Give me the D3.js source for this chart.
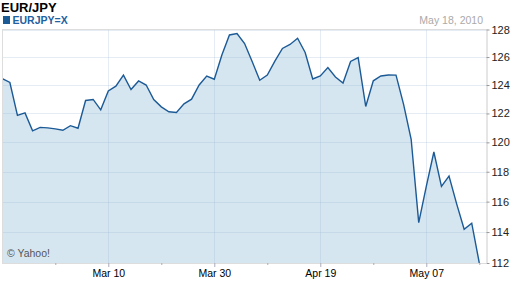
<!DOCTYPE html>
<html>
<head>
<meta charset="utf-8">
<script src="https://cdn.jsdelivr.net/npm/d3@7"></script>
<style>
  body { margin: 0; background: #fff; }
  svg { display: block; font-family: "Liberation Sans", Arial, sans-serif; }
</style>
</head>
<body>
<div id="chart"></div>
<script>
// EUR/JPY daily close, one value per trading day (Feb 18 .. May 18, 2010)
var closes = [
  124.46, 124.18, 121.86, 122.04, 120.79, 121.03, 121.00, 120.93, 120.83, 121.15,
  120.97, 122.91, 122.98, 122.25, 123.58, 123.92, 124.70, 123.68, 124.29, 124.00,
  122.98, 122.46, 122.12, 122.07, 122.67, 123.00, 124.00, 124.64, 124.41, 126.15,
  127.60, 127.71, 126.98, 125.68, 124.34, 124.71, 125.71, 126.62, 126.91, 127.36,
  126.33, 124.43, 124.64, 125.25, 124.57, 124.14, 125.68, 125.96, 122.49, 124.30,
  124.64, 124.71, 124.70, 122.63, 120.21, 114.62, 117.02, 119.34, 117.02, 117.71,
  115.87, 114.18, 114.58, 112.00
];

// x axis: trading-day index
var majorTickDays = [14, 28, 42, 56];
var majorTickLabels = ["Mar 10", "Mar 30", "Apr 19", "May 07"];
var minorTickDays = [7, 21, 35, 49, 63];

// y axis
var yTicks = [112, 114, 116, 118, 120, 122, 124, 126, 128];

var width = 512, height = 288;
var plotLeft = 2, plotRight = 486.5, plotTop = 29.5, plotBottom = 263;

var svg = d3.select("#chart").append("svg")
  .attr("width", width)
  .attr("height", height);

var x = d3.scaleLinear()
  .domain([0, closes.length - 1])
  .range([2.3, 479.3]);

var y = d3.scaleLog()
  .domain([112, 128])
  .range([plotBottom, plotTop]);

// titles
svg.append("text")
  .attr("x", 1).attr("y", 11.5)
  .style("font-size", "13px").style("font-weight", "bold").attr("fill", "#000")
  .text("EUR/JPY");

svg.append("rect")
  .attr("x", 3).attr("y", 16).attr("width", 7).attr("height", 8)
  .attr("fill", "#1c5a96");

svg.append("text")
  .attr("x", 12.5).attr("y", 24)
  .style("font-size", "10.5px").style("font-weight", "bold").attr("fill", "#2360a0")
  .text("EURJPY=X");

svg.append("text")
  .attr("x", 483).attr("y", 24)
  .attr("text-anchor", "end")
  .style("font-size", "10.5px").attr("fill", "#aaa")
  .text("May 18, 2010");

// area + line
var area = d3.area()
  .x(function(d, i) { return x(i); })
  .y0(plotBottom)
  .y1(function(d) { return y(d); });

var line = d3.line()
  .x(function(d, i) { return x(i); })
  .y(function(d) { return y(d); });

svg.append("path")
  .datum(closes)
  .attr("d", area)
  .attr("fill", "#d6e6f1");

// grid on top of fill (semi transparent)
svg.selectAll(".hgrid")
  .data(yTicks)
  .enter().append("line")
  .attr("class", "hgrid")
  .attr("x1", plotLeft).attr("x2", plotRight)
  .attr("y1", function(d) { return Math.round(y(d)) + 0.5; })
  .attr("y2", function(d) { return Math.round(y(d)) + 0.5; })
  .attr("stroke", "rgba(150,180,210,0.25)");

svg.selectAll(".vgrid")
  .data(majorTickDays)
  .enter().append("line")
  .attr("class", "vgrid")
  .attr("x1", function(d) { return Math.round(x(d)) + 0.5; })
  .attr("x2", function(d) { return Math.round(x(d)) + 0.5; })
  .attr("y1", plotTop).attr("y2", plotBottom)
  .attr("stroke", "rgba(150,180,210,0.25)");

svg.append("path")
  .datum(closes)
  .attr("d", line)
  .attr("fill", "none")
  .attr("stroke", "#1c5a96")
  .attr("stroke-width", 1.4);

// frame
svg.append("line")
  .attr("x1", plotLeft + 0.5).attr("x2", plotLeft + 0.5)
  .attr("y1", plotTop).attr("y2", plotBottom)
  .attr("stroke", "#ddd");
svg.append("line")
  .attr("x1", plotLeft).attr("x2", plotRight)
  .attr("y1", plotTop).attr("y2", plotTop)
  .attr("stroke", "#ddd");

// right axis
var yAxis = d3.axisRight(y)
  .tickValues(yTicks)
  .tickFormat(d3.format("d"))
  .tickSize(3)
  .tickPadding(2);

var ya = svg.append("g")
  .attr("transform", "translate(" + plotRight + ",0)")
  .call(yAxis);
ya.select(".domain").attr("stroke", "#ccc").attr("d", "M0.5," + plotTop + "V" + plotBottom);
ya.selectAll(".tick line").attr("stroke", "#999");
ya.selectAll(".tick text")
  .style("font-size", "11px").style("font-family", "Liberation Sans, Arial, sans-serif")
  .attr("fill", "#222");

// bottom axis
var xAxis = d3.axisBottom(x)
  .tickValues(majorTickDays)
  .tickFormat(function(d, i) { return majorTickLabels[i]; })
  .tickSize(4)
  .tickPadding(3);

var xa = svg.append("g")
  .attr("transform", "translate(0," + plotBottom + ")")
  .call(xAxis);
xa.select(".domain").attr("stroke", "#ddd").attr("d", "M" + plotLeft + ",0.5H" + plotRight);
xa.selectAll(".tick line").attr("stroke", "#aab");
xa.selectAll(".tick text")
  .style("font-size", "10.5px").style("font-family", "Liberation Sans, Arial, sans-serif")
  .attr("fill", "#000");

var xMinor = d3.axisBottom(x)
  .tickValues(minorTickDays)
  .tickFormat("")
  .tickSize(2);
var xm = svg.append("g")
  .attr("transform", "translate(0," + plotBottom + ")")
  .call(xMinor);
xm.select(".domain").remove();
xm.selectAll(".tick line").attr("stroke", "#aab");

// watermark
svg.append("text")
  .attr("x", 7).attr("y", 257)
  .style("font-size", "10.5px").attr("fill", "#555")
  .text("\u00a9 Yahoo!");
</script>
</body>
</html>
